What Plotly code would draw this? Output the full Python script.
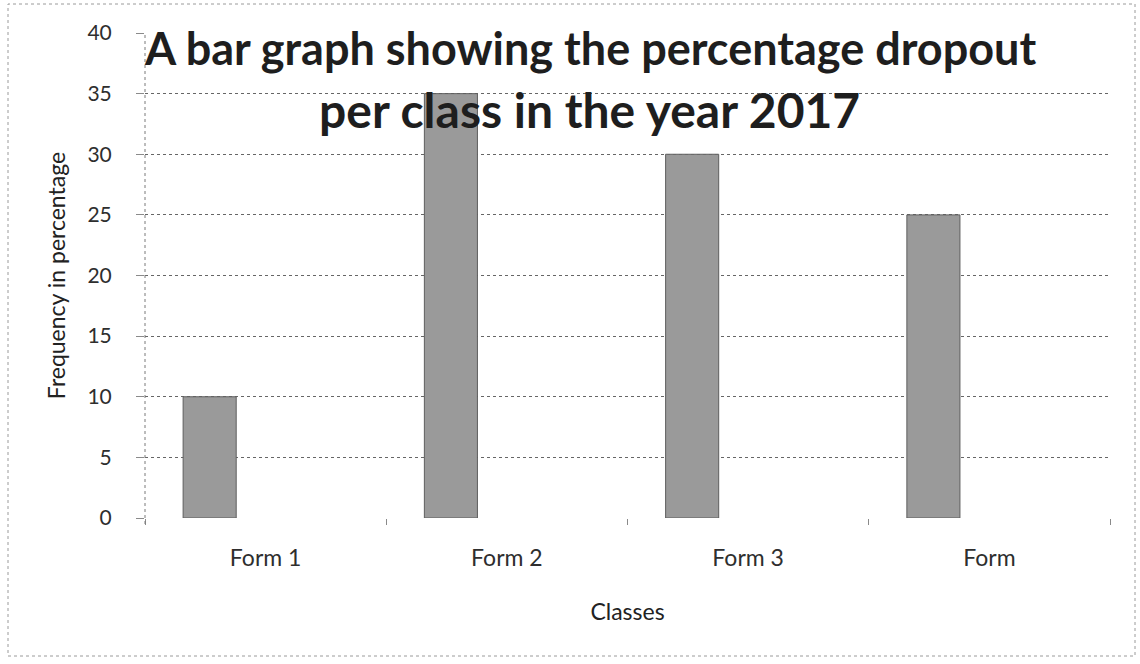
import plotly.graph_objects as go

classes = ["Form 1", "Form 2", "Form 3", "Form"]
dropout_pct = [10, 35, 30, 25]
y_ticks = [0, 5, 10, 15, 20, 25, 30, 35, 40]

title_line1 = "A bar graph showing the percentage dropout"
title_line2 = "per class in the year 2017"
x_title = "Classes"
y_title = "Frequency in percentage"

FONT = "Lato, 'Open Sans', sans-serif"

fig = go.Figure()
fig.add_trace(go.Bar(
    x=classes, y=dropout_pct,
    width=0.22, offset=-0.342,
    marker=dict(color="#9a9a9a", line=dict(color="#5e5e5e", width=1)),
    showlegend=False,
))

# plot area in px: left 145, right 1110, top 33, bottom 518
L, R, T, B = 145, 1110, 33, 518
W, H = R - L, B - T

def px_x(x):
    return (x - L) / W

def px_y(y):
    return (B - y) / H

fig.update_layout(
    width=1140, height=664,
    margin=dict(l=L, r=1140 - R, t=T, b=664 - B),
    paper_bgcolor="white", plot_bgcolor="white",
    font=dict(family=FONT, color="#2a2a2a", size=18),
    xaxis=dict(
        type="category",
        tickson="boundaries",
        ticks="outside", ticklen=6, tickcolor="#8a8a8a",
        showgrid=False,
        showline=False,
        ticklabelstandoff=24,
        tickfont=dict(size=23, color="#2e2e2e"),
        title=dict(text=x_title, font=dict(size=23, color="#222222"), standoff=33),
        range=[-0.5, 3.5],
    ),
    yaxis=dict(
        range=[0, 40],
        tickvals=y_ticks,
        ticks="outside", ticklen=8, tickcolor="#8a8a8a",
        showgrid=True, gridcolor="#666666", gridwidth=1, griddash="dot",
        showline=False,
        zeroline=False,
        ticklabelstandoff=20,
        tickfont=dict(size=21, color="#2e2e2e"),
        title=dict(text=y_title, font=dict(size=23, color="#222222"), standoff=15),
    ),
)

# dotted left axis line
fig.add_shape(
    type="line", xref="paper", yref="paper",
    x0=0, x1=0, y0=px_y(B + 6), y1=1,
    line=dict(color="#7a7a7a", width=1, dash="dot"),
)

# two-line title inside the plot area
fig.add_annotation(
    xref="paper", yref="paper",
    x=px_x(590), y=px_y(19), xanchor="center", yanchor="top",
    text="<b>" + title_line1 + "</b>",
    showarrow=False, align="center",
    font=dict(family=FONT, size=45, color="#1e1e1e"),
)
fig.add_annotation(
    xref="paper", yref="paper",
    x=px_x(589), y=px_y(79), xanchor="center", yanchor="top",
    text="<b>" + title_line2 + "</b>",
    showarrow=False, align="center",
    font=dict(family=FONT, size=48, color="#1e1e1e"),
)

# outer chart border
fig.add_shape(
    type="rect", xref="paper", yref="paper",
    x0=px_x(8), x1=px_x(1135), y0=px_y(656), y1=px_y(4),
    line=dict(color="#9a9a9a", width=1, dash="dot"),
    fillcolor="rgba(0,0,0,0)", layer="below",
)

fig.write_html(
    "out.html",
    config={"displayModeBar": False},
    post_script="document.body.style.margin='0';document.body.style.padding='0';",
)
